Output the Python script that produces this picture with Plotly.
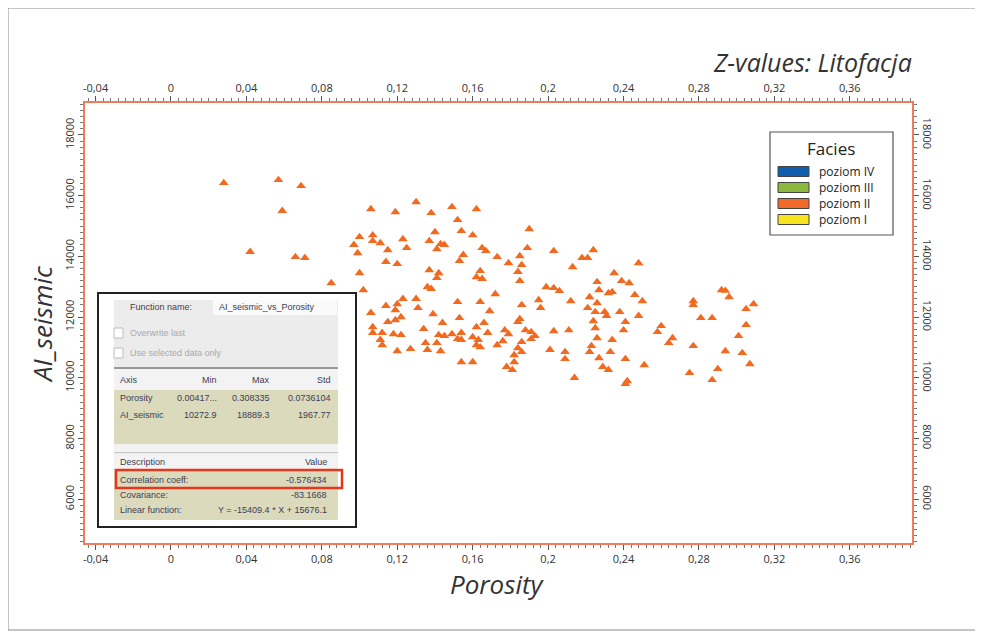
import plotly.graph_objects as go

# ---------------- data ----------------
porosity = [
    0.028, 0.057, 0.069, 0.059, 0.042, 0.066, 0.071, 0.085,
    0.106, 0.119, 0.130, 0.138, 0.149, 0.162, 0.152, 0.140, 0.154, 0.160,
    0.100, 0.107, 0.107, 0.111, 0.123, 0.115, 0.125, 0.137, 0.141, 0.143,
    0.145, 0.097, 0.099, 0.114, 0.120, 0.155, 0.153, 0.165, 0.167, 0.173,
    0.100, 0.137, 0.142, 0.141, 0.164, 0.162, 0.165, 0.136, 0.138, 0.102,
    0.123, 0.130, 0.120, 0.114, 0.131, 0.119, 0.152, 0.164, 0.172, 0.106,
    0.122, 0.139, 0.153, 0.169, 0.115, 0.119, 0.144, 0.166, 0.107, 0.107,
    0.112, 0.118, 0.122, 0.134, 0.162, 0.168, 0.111, 0.112, 0.142, 0.145,
    0.149, 0.154, 0.152, 0.154, 0.160, 0.163, 0.162, 0.164, 0.173, 0.135,
    0.141, 0.120, 0.127, 0.136, 0.143, 0.154, 0.160,
    0.190, 0.189, 0.203, 0.224, 0.185, 0.179, 0.186, 0.218, 0.221, 0.213,
    0.184, 0.185, 0.235, 0.239, 0.243, 0.248, 0.199, 0.203, 0.206, 0.226,
    0.227, 0.232, 0.234, 0.246, 0.222, 0.195, 0.196, 0.212, 0.186, 0.226,
    0.221, 0.225, 0.230, 0.231, 0.238, 0.248, 0.185, 0.184, 0.224, 0.225,
    0.241, 0.240, 0.177, 0.179, 0.188, 0.191, 0.193, 0.191, 0.203, 0.211,
    0.176, 0.186, 0.184, 0.186, 0.226, 0.234, 0.223, 0.222, 0.233, 0.201,
    0.209, 0.209, 0.182, 0.182, 0.178, 0.181, 0.227, 0.229, 0.232, 0.241,
    0.214, 0.242, 0.241,
    0.250, 0.292, 0.294, 0.296, 0.309, 0.305, 0.277, 0.277, 0.281, 0.287,
    0.305, 0.301, 0.260, 0.258, 0.266, 0.264, 0.277, 0.294, 0.303, 0.307,
    0.251, 0.275, 0.290, 0.287,
]
ai_seismic = [
    16420, 16520, 16320, 15500, 14150, 13980, 13950, 13120,
    15560, 15460, 15790, 15430, 15630, 15560, 15200, 14800, 14840, 14700,
    14640, 14700, 14510, 14440, 14570, 14210, 14280, 14510, 14240, 14410,
    14380, 14380, 14110, 13820, 13750, 14050, 13850, 14280, 14180, 13980,
    13450, 13550, 13450, 13290, 13520, 13320, 13260, 12990, 12930, 12890,
    12600, 12600, 12430, 12370, 12300, 12230, 12500, 12500, 12760, 12140,
    12000, 12100, 11970, 12200, 11840, 11900, 11810, 11810, 11670, 11480,
    11480, 11440, 11410, 11610, 11670, 11480, 11250, 11080, 11410, 11380,
    11440, 11480, 11280, 11250, 11340, 11250, 11080, 11010, 11080, 11150,
    11150, 10880, 10950, 10920, 10880, 10520, 10520,
    14900, 14280, 14180, 14210, 14010, 13780, 13720, 13950, 13950, 13650,
    13490, 13190, 13450, 13190, 13120, 13780, 12990, 12960, 12860, 13160,
    12890, 12790, 12830, 12730, 12660, 12560, 12300, 12530, 12400, 12460,
    12300, 12170, 12170, 12040, 12170, 12040, 11940, 11840, 11870, 11640,
    11840, 11570, 11570, 11440, 11570, 11510, 11380, 11280, 11540, 11570,
    11210, 11180, 10980, 10850, 11310, 11250, 11050, 10850, 10850, 10920,
    10850, 10620, 10750, 10520, 10360, 10260, 10650, 10360, 10260, 10620,
    10000, 9890, 9800,
    12530, 12890, 12870, 12660, 12430, 12270, 12530, 12400, 11970, 11970,
    11740, 11380, 11710, 11510, 11310, 11150, 11050, 10880, 10820, 10450,
    10420, 10160, 10290, 9930,
]

x_tickvals = [-0.04, 0, 0.04, 0.08, 0.12, 0.16, 0.2, 0.24, 0.28, 0.32, 0.36]
x_ticktext = ["-0,04", "0", "0,04", "0,08", "0,12", "0,16", "0,2", "0,24", "0,28", "0,32", "0,36"]
y_tickvals = [6000, 8000, 10000, 12000, 14000, 16000, 18000]
y_ticktext = ["6000", "8000", "10000", "12000", "14000", "16000", "18000"]

facies_title = "Facies"
facies_labels = ["poziom IV", "poziom III", "poziom II", "poziom I"]
facies_colors = ["#0f5fae", "#8bb83e", "#f26a2a", "#f7e41e"]

fn_name = "AI_seismic_vs_Porosity"
stats_header = ["Axis", "Min", "Max", "Std"]
stats_rows = [["Porosity", "0.00417...", "0.308335", "0.0736104"],
              ["AI_seismic", "10272.9", "18889.3", "1967.77"]]
desc_header = ["Description", "Value"]
desc_rows = [["Correlation coeff:", "-0.576434"],
             ["Covariance:", "-83.1668"],
             ["Linear function:", "Y = -15409.4 * X + 15676.1"]]

# ---------------- layout helpers (page pixel -> paper) ----------------
PAGE_W, PAGE_H = 983, 637
OFF = 8                      # default body margin of the html page
W, H = PAGE_W - OFF, PAGE_H - OFF
L, R, T, B = 85, 912, 103, 543   # plot frame in page pixels
def px(x):
    return (x - L) / (R - L)
def py(y):
    return (B - y) / (B - T)

FRAME = "#f27b5c"
TICKC = "#555555"
TXT = "#333333"
TF = dict(family="Open Sans, Noto Sans, sans-serif", size=11, color=TXT)

fig = go.Figure()
fig.add_trace(go.Scatter(
    x=porosity, y=ai_seismic, mode="markers",
    marker=dict(symbol="triangle-up", size=8.5, color="#f26a1f", line=dict(width=0)),
    showlegend=False, name="poziom II"))
fig.add_trace(go.Scatter(x=[None], y=[None], xaxis="x2", yaxis="y2",
                         showlegend=False, hoverinfo="skip"))

xr = [-0.0456, 0.393]
yr = [4556, 19054]
common_x = dict(range=xr, tickmode="array", tickvals=x_tickvals, ticktext=x_ticktext,
                ticks="outside", ticklen=5, tickcolor=TICKC, tickwidth=1,
                showline=True, linecolor=FRAME, linewidth=1.5, showgrid=False,
                zeroline=False, tickfont=TF,
                minor=dict(tick0=0, dtick=0.004, ticks="outside", ticklen=3,
                           tickcolor="#777777", showgrid=False))
common_y = dict(range=yr, tickmode="array", tickvals=y_tickvals, ticktext=y_ticktext,
                ticks="outside", ticklen=5, tickcolor=TICKC, tickwidth=1,
                showline=True, linecolor=FRAME, linewidth=1.5, showgrid=False,
                zeroline=False, tickfont=TF,
                minor=dict(tick0=0, dtick=200, ticks="outside", ticklen=3,
                           tickcolor="#777777", showgrid=False))

shapes = []
annotations = []

# outer border of the figure
shapes.append(dict(type="rect", xref="paper", yref="paper",
                   x0=px(8), x1=px(976), y0=py(630), y1=py(8),
                   line=dict(color="#8a8a8a", width=1), fillcolor="rgba(0,0,0,0)", layer="below"))

# axis titles
TITLEF = dict(family="Open Sans, Noto Sans, sans-serif", size=26, color=TXT, style="italic")
annotations.append(dict(text="AI_seismic", xref="paper", yref="paper", x=px(42), y=py(325),
                        showarrow=False, textangle=-90, font=TITLEF, xanchor="center", yanchor="middle"))
annotations.append(dict(text="Porosity", xref="paper", yref="paper", x=px(497), y=py(584),
                        showarrow=False, font=TITLEF, xanchor="center", yanchor="middle"))
annotations.append(dict(text="Z-values: Litofacja", xref="paper", yref="paper", x=px(913), y=py(80),
                        showarrow=False, font=dict(TITLEF, size=25), xanchor="right", yanchor="bottom",
                        borderpad=0))

# legend box
shapes.append(dict(type="rect", xref="paper", yref="paper",
                   x0=px(770), x1=px(893), y0=py(235), y1=py(132),
                   line=dict(color="#555555", width=1.2), fillcolor="white", layer="above"))
annotations.append(dict(text=facies_title, xref="paper", yref="paper", x=px(831), y=py(148),
                        showarrow=False, xanchor="center", yanchor="middle",
                        font=dict(family="Open Sans, Noto Sans, sans-serif", size=17, color="#222222")))
for i, (lab, col) in enumerate(zip(facies_labels, facies_colors)):
    yc = 171.5 + i * 16
    shapes.append(dict(type="rect", xref="paper", yref="paper",
                       x0=px(778), x1=px(809), y0=py(yc + 5), y1=py(yc - 5),
                       line=dict(color="#444444", width=1), fillcolor=col, layer="above"))
    annotations.append(dict(text=lab, xref="paper", yref="paper", x=px(817), y=py(yc),
                            showarrow=False, xanchor="left", yanchor="middle",
                            font=dict(family="Open Sans, Noto Sans, sans-serif", size=12, color="#222222")))

# inset panel (function dialog)
def rect(x0, y0, x1, y1, fill, line=None, lw=0):
    shapes.append(dict(type="rect", xref="paper", yref="paper",
                       x0=px(x0), x1=px(x1), y0=py(y1), y1=py(y0),
                       fillcolor=fill, line=dict(color=line or fill, width=lw), layer="above"))

KHAKI = "#dcdabd"
rect(98, 293, 356, 527, "white", "#222222", 2)
rect(114, 300, 338, 367, "#ececec")
rect(213, 300, 337, 315, "#fafafa")
rect(114, 328, 123, 338, "white", "#bdbdbd", 1)
rect(114, 348, 123, 358, "white", "#bdbdbd", 1)
rect(114, 367, 338, 369, "#9a9a9a")
rect(114, 369, 338, 390, "#f3f3f3")
rect(114, 390, 338, 444, KHAKI)
rect(114, 444, 338, 453, "#f3f3f3")
rect(114, 452, 338, 453.5, "#c8c8c8")
rect(114, 453.5, 338, 470, "#f3f3f3")
rect(114, 470, 338, 520, KHAKI)
shapes.append(dict(type="rect", xref="paper", yref="paper",
                   x0=px(116), x1=px(342), y0=py(488), y1=py(470),
                   line=dict(color="#e5361e", width=2.5), fillcolor="rgba(0,0,0,0)", layer="above"))

IF = dict(family="Liberation Sans, Arial, sans-serif", size=9, color="#3c3c52")
IFG = dict(family="Liberation Sans, Arial, sans-serif", size=9, color="#a9a9a9")
def txt(s, x, y, anchor="left", font=IF):
    annotations.append(dict(text=s, xref="paper", yref="paper", x=px(x), y=py(y),
                            showarrow=False, xanchor=anchor, yanchor="middle", font=font))

txt("Function name:", 128, 307)
txt(fn_name, 217, 307)
txt("Overwrite last", 128, 333, font=IFG)
txt("Use selected data only", 128, 353, font=IFG)
cols = [219, 272, 333]
txt(stats_header[0], 118, 380)
for c, s in zip(cols, stats_header[1:]):
    txt(s, c, 380, "right")
for r_i, row in enumerate(stats_rows):
    yy = 398 + r_i * 17
    txt(row[0], 118, yy)
    for c, s in zip(cols, row[1:]):
        txt(s, c, yy, "right")
txt(desc_header[0], 118, 462)
txt(desc_header[1], 329, 462, "right")
for r_i, row in enumerate(desc_rows):
    yy = 480 + r_i * 15
    txt(row[0], 118, yy)
    txt(row[1], 329, yy, "right")

fig.update_layout(
    width=W, height=H,
    margin=dict(l=L - OFF, r=PAGE_W - R, t=T - OFF, b=PAGE_H - B, pad=0),
    paper_bgcolor="white", plot_bgcolor="white",
    showlegend=False,
    xaxis=dict(**common_x, side="bottom", anchor="y"),
    xaxis2=dict(**common_x, side="top", anchor="y", overlaying="x"),
    yaxis=dict(**common_y, side="left", anchor="x", tickangle=-90),
    yaxis2=dict(**common_y, side="right", anchor="x", overlaying="y", tickangle=90),
    shapes=shapes, annotations=annotations,
)

fig.write_html("out.html")
